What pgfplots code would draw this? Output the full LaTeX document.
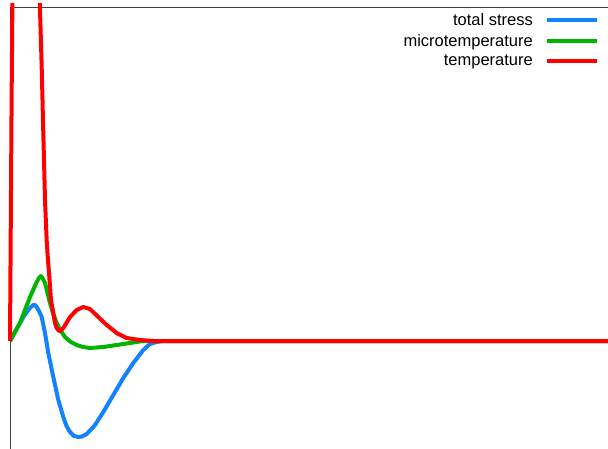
\documentclass[border=0pt]{standalone}
\usepackage{pgfplots}
\pgfplotsset{compat=1.18}
\usepackage{fontspec}
\setmainfont{Liberation Sans}
\definecolor{cblue}{RGB}{20,130,255}
\definecolor{cgreen}{RGB}{0,180,0}
\definecolor{cred}{RGB}{255,0,0}
\begin{document}
\begin{tikzpicture}
\path[use as bounding box] (0,0) rectangle (608pt,-449pt);
\begin{axis}[
  at={(10pt,-7pt)}, anchor=north west,
  scale only axis, width=598pt, height=442pt,
  xmin=0, xmax=598, ymin=-108, ymax=334,
  axis x line=top, axis y line=left,
  axis line style={-, black!75, line width=0.9pt},
  xtick=\empty, ytick=\empty,
  clip=false,
  unbounded coords=jump,
  legend style={draw=none, fill=none, at={(587pt,438pt)}, anchor=north east,
    font=\fontsize{16.5}{19}\selectfont, row sep=3.5pt, inner sep=0pt,
    legend cell align=right},
  legend plot pos=right,
  legend image code/.code={\path[draw=none, fill=none, use as bounding box] (0pt,-2pt) rectangle (62pt,2pt); \draw[#1, line width=4pt] (12pt,0pt) -- (62pt,0pt);},
  every axis plot/.append style={line width=4pt, line join=round},
]
\addplot[cblue] coordinates {(0,0) (5,9) (10,18) (14,25) (18.3,31) (21,34) (23.3,36) (25,36) (26.7,34) (29,30) (31.7,24) (35,8) (38.3,-12) (43.3,-36) (48.3,-59) (53.3,-76) (56.5,-85) (60,-91) (64,-95) (68.3,-96) (72,-95.5) (76.7,-93) (80,-89.5) (85,-84) (93.3,-71) (103.3,-54) (113.3,-37) (123.3,-22) (133.3,-9) (140,-3) (146.7,-1) (152,0) (598,0)};
\addlegendentry{total stress}
\addplot[cgreen] coordinates {(0,0) (10,18) (15,31) (20,44) (26.7,59) (29,63) (30.7,65) (32.5,63) (35,58) (40,38) (43.3,27) (46.7,18) (50.5,10.5) (55,4) (60,-0.5) (66.7,-4) (73,-6) (80,-7) (93.3,-6) (106.7,-4) (120,-2) (133,0) (598,0)};
\addlegendentry{microtemperature}
\addplot[cred] coordinates {(0,0) (0.8,120) (1.6,240) (2.4,338) (10,nan) (29.8,338) (31.7,274) (33.3,208) (35,141) (36.7,100) (38,81) (40,55) (41,41) (43.3,28) (45,18) (46.7,13) (49,10) (51,10.5) (54,14) (60,24) (66.7,31) (73.3,34) (80,32) (88.3,24) (96.7,16) (106.7,8) (116.7,3) (130,1) (143,0) (598,0)};
\addlegendentry{temperature}
\end{axis}
\end{tikzpicture}
\end{document}
